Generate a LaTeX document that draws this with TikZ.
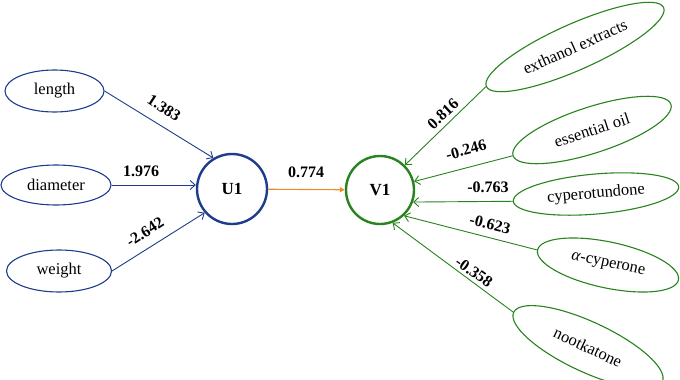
\documentclass[tikz,border=0pt]{standalone}
\usepackage{fontspec}
\setmainfont{Liberation Serif}
\usetikzlibrary{shapes.geometric,arrows.meta}
\definecolor{cblue}{RGB}{30,60,140}
\definecolor{cgreen}{RGB}{40,130,30}
\definecolor{corange}{RGB}{240,140,40}
\begin{document}
\begin{tikzpicture}[x=1pt,y=-1pt,
  bell/.style={ellipse, draw=cblue, line width=1.1pt, inner sep=0pt, font=\fontsize{16.5}{18}\selectfont},
  gell/.style={ellipse, draw=cgreen, line width=1.1pt, inner sep=0pt, font=\fontsize{16.5}{18}\selectfont},
  lat/.style={circle, line width=2.4pt, inner sep=0pt, font=\fontsize{17}{19}\selectfont\bfseries},
  barrow/.style={draw=cblue, line width=0.9pt, -{Straight Barb[length=5pt,width=9pt]}},
  garrow/.style={draw=cgreen, line width=0.9pt, -{Straight Barb[length=5pt,width=9pt]}},
  oarrow/.style={draw=corange, line width=1.1pt, -{Triangle[length=5pt,width=5pt]}},
  lbl/.style={font=\fontsize{16}{18}\selectfont\bfseries, inner sep=0pt}]

\useasboundingbox (0,0) rectangle (680,380);

\node[bell, minimum width=99pt, minimum height=42pt] (len) at (54.5,91) {length};
\node[bell, minimum width=110pt, minimum height=40pt] (dia) at (56,185) {diameter};
\node[bell, minimum width=105pt, minimum height=42pt] (wei) at (59,271) {weight};
\node[lat, draw=cblue, minimum size=70pt] (U1) at (232,189) {U1};
\node[lat, draw=cgreen, minimum size=68pt] (V1) at (380,190) {V1};
\node[gell, minimum width=194pt, minimum height=46pt, rotate=24] (ext) at (575,47) {exthanol extracts};
\node[gell, minimum width=166pt, minimum height=46pt, rotate=18] (ess) at (592,130) {essential oil};
\node[gell, minimum width=166pt, minimum height=40pt, rotate=5] (cyp) at (596,194) {cyperotundone};
\node[gell, minimum width=144pt, minimum height=46pt, rotate=-12] (acy) at (608,265) {\textit{α}-cyperone};
\node[gell, minimum width=164pt, minimum height=50pt, rotate=-25] (noo) at (588,347) {nootkatone};

\draw[barrow] (len.east) -- (U1.121);
\draw[barrow] (dia.east) -- (dia.east -| U1.west);
\draw[barrow] (wei.east) -- (U1.221);
\draw[oarrow] (U1) -- (V1);
\draw[garrow] (ext.west) -- (V1.45);
\draw[garrow] (ess.west) -- (V1.14);
\draw[garrow] (cyp.west) -- (V1.-20);
\draw[garrow] (acy.west) -- (V1.-47);
\draw[garrow] (noo.west) -- (V1.-69);

\node[lbl, rotate=-33] (l1) at (164,108) {1.383};
\node[lbl] (l2) at (141,171) {1.976};
\node[lbl, rotate=33] (l3) at (145,232) {-2.642};
\node[lbl] (l4) at (306,172) {0.774};
\node[lbl, rotate=43] (l5) at (443,114) {0.816};
\node[lbl, rotate=15] (l6) at (466,150) {-0.246};
\node[lbl] (l7) at (488,187) {-0.763};
\node[lbl, rotate=-14] (l8) at (490,224) {-0.623};
\node[lbl, rotate=-35] (l9) at (474,272) {-0.358};
\end{tikzpicture}
\end{document}
